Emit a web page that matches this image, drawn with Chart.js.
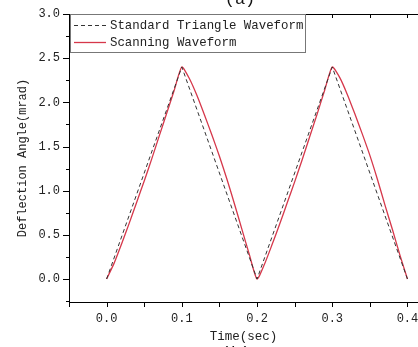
<!DOCTYPE html>
<html>
<head>
<meta charset="utf-8">
<script src="https://cdn.jsdelivr.net/npm/chart.js@4"></script>
<style>
  html, body { margin: 0; padding: 0; background: #fff; }
  #wrap { width: 418px; height: 347px; }
</style>
</head>
<body>
<div id="wrap"><canvas id="waveChart"></canvas></div>
<script>
const seriesNames = ["Standard Triangle Waveform", "Scanning Waveform"];

const standardTimes = [0, 0.1, 0.2, 0.3, 0.4];
const standardValues = [0, 2.4, 0, 2.4, 0];

const scanTimes = [
  0, 0.01, 0.02, 0.03, 0.04, 0.05, 0.06, 0.07, 0.08, 0.09,
  0.1, 0.11, 0.12, 0.13, 0.14, 0.15, 0.16, 0.17, 0.18, 0.19,
  0.2, 0.21, 0.22, 0.23, 0.24, 0.25, 0.26, 0.27, 0.28, 0.29,
  0.3, 0.31, 0.32, 0.33, 0.34, 0.35, 0.36, 0.37, 0.38, 0.39, 0.4
];
const scanValues = [
  0, 0.18, 0.4, 0.63, 0.87, 1.11, 1.36, 1.62, 1.88, 2.14,
  2.4, 2.27, 2.08, 1.86, 1.63, 1.39, 1.13, 0.85, 0.56, 0.27,
  0, 0.17, 0.39, 0.62, 0.86, 1.1, 1.35, 1.61, 1.87, 2.14,
  2.4, 2.28, 2.09, 1.87, 1.64, 1.4, 1.13, 0.84, 0.56, 0.27, 0
];

const xTickLabels = ["0.0", "0.1", "0.2", "0.3", "0.4"];
const yTickLabels = ["0.0", "0.5", "1.0", "1.5", "2.0", "2.5", "3.0"];

const monoFont = "'Liberation Mono', 'DejaVu Sans Mono', monospace";

function toPoints(xs, ys) {
  return xs.map((x, i) => ({ x: x, y: ys[i] }));
}

// axis ticks, top frame line, legend box and the cut-off panel letters
const framePlugin = {
  id: "frame",
  afterDraw(chart) {
    const ctx = chart.ctx;
    const area = chart.chartArea;
    const xs = chart.scales.x;
    const ys = chart.scales.y;
    ctx.save();
    ctx.strokeStyle = "#000";
    ctx.lineWidth = 1;

    ctx.beginPath();
    ctx.moveTo(area.left, area.top + 0.5);
    ctx.lineTo(area.right, area.top + 0.5);
    ctx.stroke();

    ctx.beginPath();
    xs.ticks.forEach(t => {
      const px = Math.round(xs.getPixelForValue(t.value)) + 0.5;
      ctx.moveTo(px, area.bottom);
      ctx.lineTo(px, area.bottom + 5);
      ctx.moveTo(px, area.top);
      ctx.lineTo(px, area.top + 4);
    });
    for (let v = -0.25; v <= 3.0001; v += 0.25) {
      const py = Math.round(ys.getPixelForValue(v)) + 0.5;
      const major = Math.abs(v * 2 - Math.round(v * 2)) < 1e-6;
      ctx.moveTo(area.left, py);
      ctx.lineTo(area.left - (major ? 6 : 3), py);
    }
    ctx.stroke();

    // legend
    const lx = 70.5, ly = 14.5, lw = 235, lh = 38;
    ctx.fillStyle = "#fff";
    ctx.fillRect(lx, ly, lw, lh);
    ctx.strokeStyle = "#777";
    ctx.strokeRect(lx, ly, lw, lh);
    ctx.font = "12.4px " + monoFont;
    ctx.textBaseline = "middle";
    chart.data.datasets.forEach((ds, i) => {
      const rowY = 25 + i * 17;
      ctx.save();
      ctx.strokeStyle = ds.borderColor;
      ctx.lineWidth = ds.borderWidth;
      ctx.setLineDash(ds.borderDash || []);
      ctx.beginPath();
      ctx.moveTo(74, rowY + 0.5);
      ctx.lineTo(106, rowY + 0.5);
      ctx.stroke();
      ctx.restore();
      ctx.fillStyle = "#222";
      ctx.fillText(ds.label, 110, rowY + 1);
    });

    ctx.fillStyle = "#111";
    ctx.font = "17px " + monoFont;
    ctx.textAlign = "center";
    ctx.textBaseline = "alphabetic";
    ctx.fillText("(a)", 240, 4);
    ctx.fillText("(b)", 236, 358);
    ctx.restore();
  }
};

const ctx = document.getElementById("waveChart").getContext("2d");

const chart = new Chart(ctx, {
  type: "line",
  data: {
    datasets: [{
      label: seriesNames[0],
      data: toPoints(standardTimes, standardValues),
      borderColor: "#333",
      borderWidth: 1,
      borderDash: [4, 3],
      pointRadius: 0,
      fill: false
    }, {
      label: seriesNames[1],
      data: toPoints(scanTimes, scanValues),
      borderColor: "#d6374a",
      borderWidth: 1.3,
      pointRadius: 0,
      tension: 0.2,
      fill: false
    }]
  },
  options: {
    responsive: true,
    maintainAspectRatio: false,
    animation: false,
    layout: { padding: { top: 14, right: 0, left: 0, bottom: 0 } },
    plugins: {
      legend: { display: false },
      tooltip: { enabled: false }
    },
    scales: {
      x: {
        type: "linear",
        min: -0.05,
        max: 0.414,
        grid: { display: false, drawTicks: false },
        border: { display: true, color: "#000", width: 1 },
        ticks: {
          stepSize: 0.05,
          includeBounds: false,
          autoSkip: false,
          maxRotation: 0,
          padding: 10,
          color: "#222",
          font: { family: monoFont, size: 12 },
          callback: function (value) {
            const i = Math.round(value * 10);
            if (Math.abs(value * 10 - i) > 1e-6) return "";
            return xTickLabels[i] || "";
          }
        },
        title: {
          display: true,
          text: "Time(sec)",
          color: "#222",
          font: { family: monoFont, size: 12.5 },
          padding: { top: 0, bottom: 3 }
        },
        afterFit: function (scale) {
          scale.height = 45;
          scale.paddingLeft = 0;
          scale.paddingRight = 0;
        }
      },
      y: {
        min: -0.26,
        max: 3.0,
        grid: { display: false, drawTicks: false },
        border: { display: true, color: "#000", width: 1 },
        ticks: {
          stepSize: 0.5,
          includeBounds: false,
          autoSkip: false,
          padding: 9,
          color: "#222",
          font: { family: monoFont, size: 12 },
          callback: function (value) {
            const i = Math.round(value * 2);
            return yTickLabels[i] || "";
          }
        },
        title: {
          display: true,
          text: "Deflection Angle(mrad)",
          color: "#222",
          font: { family: monoFont, size: 12 },
          padding: { top: 16, bottom: 0 }
        },
        afterFit: function (scale) {
          scale.width = 69;
          scale.paddingTop = 0;
          scale.paddingBottom = 0;
        }
      }
    }
  },
  plugins: [framePlugin]
});
</script>
</body>
</html>
